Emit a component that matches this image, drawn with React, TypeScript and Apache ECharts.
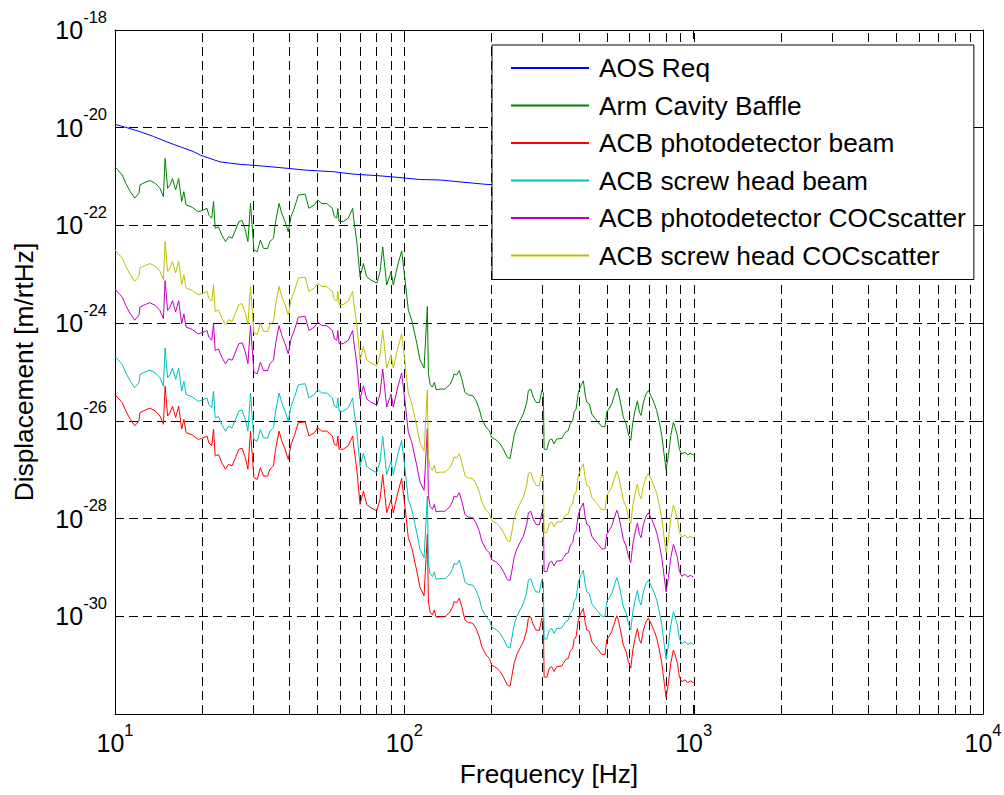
import React, { useEffect, useRef } from "react";
import * as echarts from "echarts";

// Frequencies [Hz] of the ACB / Arm Cavity Baffle noise curves
const noiseFreqs = [
  10.0, 10.6, 10.9, 11.3, 11.7, 12.1, 12.2, 12.7, 13.2, 13.8,
  14.3, 14.7, 14.9, 15.2, 15.5, 15.8, 16.2, 16.6, 17.0, 17.3,
  17.6, 18.5, 19.4, 20.3, 20.8, 21.1, 21.6, 21.9, 22.2, 22.8,
  23.4, 24.1, 24.7, 25.4, 26.1, 26.8, 27.5, 28.2, 28.8, 29.4,
  30.2, 31.0, 31.8, 32.6, 33.7, 34.3, 35.3, 35.9, 36.9, 37.7,
  38.7, 39.7, 40.6, 41.7, 43.0, 45.4, 46.8, 48.9, 50.2, 51.8,
  53.9, 56.4, 57.3, 58.4, 58.9, 59.5, 61.5, 64.0, 66.3, 66.8,
  68.5, 70.3, 72.2, 74.1, 76.7, 80.3, 82.4, 84.2, 86.9, 90.0,
  91.6, 94.9, 97.9, 100.6, 103.2, 106.1, 110.4, 113.3, 117.0, 120.1,
  121.1, 122.7, 125.0, 127.0, 128.7, 132.9, 138.3, 143.9, 147.0, 148.5,
  151.7, 154.9, 157.9, 162.1, 166.4, 172.3, 177.0, 181.6, 185.2, 191.6,
  196.7, 200.5, 208.7, 214.2, 219.9, 227.0, 232.0, 235.1, 239.5, 244.6,
  251.1, 257.8, 264.9, 268.3, 273.5, 279.2, 285.3, 292.9, 298.5, 302.4,
  304.1, 310.7, 317.1, 323.2, 329.2, 336.4, 350.1, 354.5, 362.2, 368.9,
  374.0, 382.1, 386.0, 392.2, 399.4, 407.2, 415.7, 421.3, 427.0, 436.0,
  444.4, 456.2, 468.4, 481.2, 494.0, 500.7, 511.2, 521.1, 532.0, 542.3,
  549.2, 559.8, 571.5, 583.9, 594.8, 606.3, 616.0, 627.3, 639.0, 649.2,
  658.1, 670.3, 684.8, 697.4, 716.5, 731.5, 745.5, 761.1, 775.8, 790.2,
  802.9, 817.8, 833.4, 850.9, 862.5, 878.5, 892.6, 909.8, 934.0, 954.2,
  971.9, 1000,
];

// Values below are log10 of displacement [m/rtHz]
const armCavityBaffle = [
  -20.80, -20.97, -21.14, -21.31, -21.44, -21.34, -21.17, -21.12, -21.08, -21.14,
  -21.24, -21.41, -20.63, -21.24, -21.17, -21.04, -21.27, -21.04, -21.51, -21.31,
  -21.58, -21.63, -21.72, -21.68, -21.65, -21.79, -21.85, -21.51, -22.06, -22.03,
  -22.20, -22.33, -22.23, -22.26, -22.09, -21.92, -21.90, -22.09, -22.33, -21.55,
  -22.50, -22.54, -22.30, -22.47, -22.47, -22.33, -22.26, -21.92, -21.55, -21.75,
  -21.92, -22.13, -21.82, -21.64, -21.38, -21.36, -21.65, -21.58, -21.48, -21.55,
  -21.55, -21.65, -21.82, -21.85, -21.65, -21.92, -21.92, -21.85, -21.65, -21.85,
  -22.33, -23.05, -22.78, -23.05, -23.12, -23.18, -22.95, -22.44, -23.22, -22.95,
  -23.22, -22.81, -22.52, -23.12, -23.73, -23.94, -24.41, -24.75, -24.92, -23.66,
  -25.03, -25.25, -25.31, -25.21, -25.36, -25.35, -25.35, -25.25, -25.14, -25.04,
  -25.06, -24.97, -25.14, -25.42, -25.47, -25.48, -25.59, -25.76, -25.96, -26.13,
  -26.20, -26.34, -26.40, -26.47, -26.58, -26.75, -26.77, -26.58, -26.30, -26.13,
  -25.99, -25.86, -25.62, -25.38, -25.35, -25.52, -25.62, -25.63, -25.38, -25.42,
  -26.58, -26.59, -26.40, -26.37, -26.47, -26.37, -26.36, -26.30, -26.22, -26.20,
  -26.06, -25.99, -25.82, -25.76, -25.42, -25.28, -25.18, -25.45, -25.62, -25.65,
  -25.86, -25.95, -26.03, -26.12, -26.12, -25.82, -25.74, -25.65, -25.48, -25.33,
  -25.42, -25.65, -25.93, -26.06, -26.27, -26.40, -26.03, -25.79, -25.59, -25.82,
  -25.89, -25.62, -25.45, -25.38, -25.52, -25.65, -25.79, -26.03, -26.30, -26.68,
  -27.00, -26.71, -26.30, -26.03, -26.13, -26.30, -26.58, -26.68, -26.64, -26.70,
  -26.66, -26.70,
];

const photodetectorBeam = [
  -25.46, -25.63, -25.80, -25.97, -26.10, -26.00, -25.83, -25.78, -25.74, -25.80,
  -25.90, -26.07, -25.29, -25.90, -25.83, -25.70, -25.93, -25.70, -26.17, -25.97,
  -26.24, -26.29, -26.38, -26.34, -26.31, -26.45, -26.51, -26.17, -26.72, -26.69,
  -26.86, -26.99, -26.89, -26.92, -26.75, -26.58, -26.56, -26.75, -26.99, -26.21,
  -27.16, -27.20, -26.96, -27.13, -27.13, -26.99, -26.92, -26.58, -26.21, -26.41,
  -26.58, -26.79, -26.48, -26.30, -26.04, -26.02, -26.31, -26.24, -26.14, -26.21,
  -26.21, -26.31, -26.48, -26.51, -26.31, -26.58, -26.58, -26.51, -26.31, -26.51,
  -26.99, -27.71, -27.44, -27.71, -27.78, -27.84, -27.61, -27.10, -27.88, -27.61,
  -27.88, -27.47, -27.18, -27.78, -28.39, -28.60, -29.07, -29.41, -29.58, -28.32,
  -29.69, -29.91, -29.97, -29.87, -30.02, -30.01, -30.01, -29.91, -29.80, -29.70,
  -29.72, -29.63, -29.80, -30.08, -30.13, -30.14, -30.25, -30.42, -30.62, -30.79,
  -30.86, -31.00, -31.06, -31.13, -31.24, -31.41, -31.43, -31.24, -30.96, -30.79,
  -30.65, -30.52, -30.28, -30.04, -30.01, -30.18, -30.28, -30.29, -30.04, -30.08,
  -31.24, -31.25, -31.06, -31.03, -31.13, -31.03, -31.02, -30.96, -30.88, -30.86,
  -30.72, -30.65, -30.48, -30.42, -30.08, -29.94, -29.84, -30.11, -30.28, -30.31,
  -30.52, -30.61, -30.69, -30.78, -30.78, -30.48, -30.40, -30.31, -30.14, -29.99,
  -30.08, -30.31, -30.59, -30.72, -30.93, -31.06, -30.69, -30.45, -30.25, -30.48,
  -30.55, -30.28, -30.11, -30.04, -30.18, -30.31, -30.45, -30.69, -30.96, -31.34,
  -31.66, -31.37, -30.96, -30.69, -30.79, -30.96, -31.24, -31.34, -31.30, -31.36,
  -31.32, -31.36,
];

const screwHeadBeam = [
  -24.68, -24.85, -25.02, -25.19, -25.32, -25.22, -25.05, -25.00, -24.96, -25.02,
  -25.12, -25.29, -24.51, -25.12, -25.05, -24.92, -25.15, -24.92, -25.39, -25.19,
  -25.46, -25.51, -25.60, -25.56, -25.53, -25.67, -25.73, -25.39, -25.94, -25.91,
  -26.08, -26.21, -26.11, -26.14, -25.97, -25.80, -25.78, -25.97, -26.21, -25.43,
  -26.38, -26.42, -26.18, -26.35, -26.35, -26.21, -26.14, -25.80, -25.43, -25.63,
  -25.80, -26.01, -25.70, -25.52, -25.26, -25.24, -25.53, -25.46, -25.36, -25.43,
  -25.43, -25.53, -25.70, -25.73, -25.53, -25.80, -25.80, -25.73, -25.53, -25.73,
  -26.21, -26.93, -26.66, -26.93, -27.00, -27.06, -26.83, -26.32, -27.10, -26.83,
  -27.10, -26.69, -26.40, -27.00, -27.61, -27.82, -28.29, -28.63, -28.80, -27.54,
  -28.91, -29.13, -29.19, -29.09, -29.24, -29.23, -29.23, -29.13, -29.02, -28.92,
  -28.94, -28.85, -29.02, -29.30, -29.35, -29.36, -29.47, -29.64, -29.84, -30.01,
  -30.08, -30.22, -30.28, -30.35, -30.46, -30.63, -30.65, -30.46, -30.18, -30.01,
  -29.87, -29.74, -29.50, -29.26, -29.23, -29.40, -29.50, -29.51, -29.26, -29.30,
  -30.46, -30.47, -30.28, -30.25, -30.35, -30.25, -30.24, -30.18, -30.10, -30.08,
  -29.94, -29.87, -29.70, -29.64, -29.30, -29.16, -29.06, -29.33, -29.50, -29.53,
  -29.74, -29.83, -29.91, -30.00, -30.00, -29.70, -29.62, -29.53, -29.36, -29.21,
  -29.30, -29.53, -29.81, -29.94, -30.15, -30.28, -29.91, -29.67, -29.47, -29.70,
  -29.77, -29.50, -29.33, -29.26, -29.40, -29.53, -29.67, -29.91, -30.18, -30.56,
  -30.88, -30.59, -30.18, -29.91, -30.01, -30.18, -30.46, -30.56, -30.52, -30.58,
  -30.54, -30.58,
];

const photodetectorCOCscatter = [
  -23.30, -23.47, -23.64, -23.81, -23.94, -23.84, -23.67, -23.62, -23.58, -23.64,
  -23.74, -23.91, -23.13, -23.74, -23.67, -23.54, -23.77, -23.54, -24.01, -23.81,
  -24.08, -24.13, -24.22, -24.18, -24.15, -24.29, -24.35, -24.01, -24.56, -24.53,
  -24.70, -24.83, -24.73, -24.76, -24.59, -24.42, -24.40, -24.59, -24.83, -24.05,
  -25.00, -25.04, -24.80, -24.97, -24.97, -24.83, -24.76, -24.42, -24.05, -24.25,
  -24.42, -24.63, -24.32, -24.14, -23.88, -23.86, -24.15, -24.08, -23.98, -24.05,
  -24.05, -24.15, -24.32, -24.35, -24.15, -24.42, -24.42, -24.35, -24.15, -24.35,
  -24.83, -25.55, -25.28, -25.55, -25.62, -25.68, -25.45, -24.94, -25.72, -25.45,
  -25.72, -25.31, -25.02, -25.62, -26.23, -26.44, -26.91, -27.25, -27.42, -26.16,
  -27.53, -27.75, -27.81, -27.71, -27.86, -27.85, -27.85, -27.75, -27.64, -27.54,
  -27.56, -27.47, -27.64, -27.92, -27.97, -27.98, -28.09, -28.26, -28.46, -28.63,
  -28.70, -28.84, -28.90, -28.97, -29.08, -29.25, -29.27, -29.08, -28.80, -28.63,
  -28.49, -28.36, -28.12, -27.88, -27.85, -28.02, -28.12, -28.13, -27.88, -27.92,
  -29.08, -29.09, -28.90, -28.87, -28.97, -28.87, -28.86, -28.80, -28.72, -28.70,
  -28.56, -28.49, -28.32, -28.26, -27.92, -27.78, -27.68, -27.95, -28.12, -28.15,
  -28.36, -28.45, -28.53, -28.62, -28.62, -28.32, -28.24, -28.15, -27.98, -27.83,
  -27.92, -28.15, -28.43, -28.56, -28.77, -28.90, -28.53, -28.29, -28.09, -28.32,
  -28.39, -28.12, -27.95, -27.88, -28.02, -28.15, -28.29, -28.53, -28.80, -29.18,
  -29.50, -29.21, -28.80, -28.53, -28.63, -28.80, -29.08, -29.18, -29.14, -29.20,
  -29.16, -29.20,
];

const screwHeadCOCscatter = [
  -22.50, -22.67, -22.84, -23.01, -23.14, -23.04, -22.87, -22.82, -22.78, -22.84,
  -22.94, -23.11, -22.33, -22.94, -22.87, -22.74, -22.97, -22.74, -23.21, -23.01,
  -23.28, -23.33, -23.42, -23.38, -23.35, -23.49, -23.55, -23.21, -23.76, -23.73,
  -23.90, -24.03, -23.93, -23.96, -23.79, -23.62, -23.60, -23.79, -24.03, -23.25,
  -24.20, -24.24, -24.00, -24.17, -24.17, -24.03, -23.96, -23.62, -23.25, -23.45,
  -23.62, -23.83, -23.52, -23.34, -23.08, -23.06, -23.35, -23.28, -23.18, -23.25,
  -23.25, -23.35, -23.52, -23.55, -23.35, -23.62, -23.62, -23.55, -23.35, -23.55,
  -24.03, -24.75, -24.48, -24.75, -24.82, -24.88, -24.65, -24.14, -24.92, -24.65,
  -24.92, -24.51, -24.22, -24.82, -25.43, -25.64, -26.11, -26.45, -26.62, -25.36,
  -26.73, -26.95, -27.01, -26.91, -27.06, -27.05, -27.05, -26.95, -26.84, -26.74,
  -26.76, -26.67, -26.84, -27.12, -27.17, -27.18, -27.29, -27.46, -27.66, -27.83,
  -27.90, -28.04, -28.10, -28.17, -28.28, -28.45, -28.47, -28.28, -28.00, -27.83,
  -27.69, -27.56, -27.32, -27.08, -27.05, -27.22, -27.32, -27.33, -27.08, -27.12,
  -28.28, -28.29, -28.10, -28.07, -28.17, -28.07, -28.06, -28.00, -27.92, -27.90,
  -27.76, -27.69, -27.52, -27.46, -27.12, -26.98, -26.88, -27.15, -27.32, -27.35,
  -27.56, -27.65, -27.73, -27.82, -27.82, -27.52, -27.44, -27.35, -27.18, -27.03,
  -27.12, -27.35, -27.63, -27.76, -27.97, -28.10, -27.73, -27.49, -27.29, -27.52,
  -27.59, -27.32, -27.15, -27.08, -27.22, -27.35, -27.49, -27.73, -28.00, -28.38,
  -28.70, -28.41, -28.00, -27.73, -27.83, -28.00, -28.28, -28.38, -28.34, -28.40,
  -28.36, -28.40,
];

// AOS requirement (visible part, the rest is hidden behind the legend)
const aosReqFreqs = [
  10.0, 11.0, 12.2, 13.6, 15.1, 16.8, 18.7, 19.7, 21.3, 23.1, 27.1,
  31.7, 39.2, 46.0, 56.8, 66.6, 80.3, 96.6, 113, 133, 192, 215,
];
const aosReq = [
  -19.93, -20.00, -20.08, -20.18, -20.29, -20.39, -20.49, -20.56, -20.63, -20.70, -20.75,
  -20.78, -20.83, -20.87, -20.90, -20.95, -20.98, -21.02, -21.06, -21.07, -21.16, -21.17,
];

// Vertical (log) grid lines of the frequency axis
const xGridFreqs = [
  20, 30, 40, 50, 60, 70, 80, 90, 100,
  200, 300, 400, 500, 600, 700, 800, 900, 1000,
  2000, 3000, 4000, 5000, 6000, 7000, 8000, 9000,
];

const FONT = "'Liberation Sans', Arial, Helvetica, sans-serif";

const seriesDefs = [
  { name: "AOS Req", color: "#0000ff", freqs: aosReqFreqs, values: aosReq },
  { name: "Arm Cavity Baffle", color: "#008000", freqs: noiseFreqs, values: armCavityBaffle },
  { name: "ACB photodetector beam", color: "#ff0000", freqs: noiseFreqs, values: photodetectorBeam },
  { name: "ACB screw head beam", color: "#00bfbf", freqs: noiseFreqs, values: screwHeadBeam },
  { name: "ACB photodetector COCscatter", color: "#bf00bf", freqs: noiseFreqs, values: photodetectorCOCscatter },
  { name: "ACB screw head COCscatter", color: "#bfbf00", freqs: noiseFreqs, values: screwHeadCOCscatter },
];

function zip(freqs: number[], values: number[]): number[][] {
  const n = Math.min(freqs.length, values.length);
  const out: number[][] = [];
  for (let i = 0; i < n; i++) out.push([Math.log10(freqs[i]), values[i]]);
  return out;
}

const powLabel = (v: number) => `{a|10}{b|${Math.round(v)}}`;

export default function App() {
  const ref = useRef<HTMLDivElement>(null);

  useEffect(() => {
    if (!ref.current) return;
    const chart = echarts.init(ref.current, null, { renderer: "svg" });

    const rich = {
      a: { fontSize: 25, lineHeight: 44, verticalAlign: "middle", fontFamily: FONT, color: "#000" },
      b: { fontSize: 16.5, lineHeight: 17, verticalAlign: "top", fontFamily: FONT, color: "#000" },
    };
    const axisLine = { show: true, onZero: false, lineStyle: { color: "#000", width: 1 } };
    const axisTick = { show: true, inside: true, length: 9, lineStyle: { color: "#000", width: 1 } };
    const nameTextStyle = { fontFamily: FONT, fontSize: 26.3, color: "#000" };

    const lineSeries = seriesDefs.map((d) => ({
      type: "line",
      name: d.name,
      data: zip(d.freqs, d.values),
      symbol: "none",
      showSymbol: false,
      color: d.color,
      lineStyle: { color: d.color, width: 1 },
      itemStyle: { color: d.color },
      emphasis: { disabled: true },
      z: 3,
    }));

    chart.setOption({
      animation: false,
      backgroundColor: "#ffffff",
      textStyle: { fontFamily: FONT },
      grid: { left: 115, right: 21, top: 30, bottom: 81, containLabel: false, outerBoundsMode: "none" },
      xAxis: [
        {
          type: "value",
          position: "bottom",
          min: 1,
          max: 4,
          interval: 1,
          axisLine,
          axisTick,
          axisLabel: {
            show: true,
            margin: 7,
            formatter: powLabel,
            rich,
            showMinLabel: true,
            showMaxLabel: true,
            hideOverlap: false,
          },
          splitLine: { show: false },
          name: "Frequency [Hz]",
          nameLocation: "middle",
          nameGap: 47,
          nameTextStyle,
        },
        {
          type: "value",
          position: "top",
          min: 1,
          max: 4,
          interval: 1,
          axisLine,
          axisTick,
          axisLabel: { show: false },
          splitLine: { show: false },
        },
      ],
      yAxis: [
        {
          type: "value",
          position: "left",
          min: -32,
          max: -18,
          interval: 2,
          axisLine,
          axisTick,
          axisLabel: {
            show: true,
            margin: 8,
            formatter: (v: number) => (v <= -32 ? "" : powLabel(v)),
            rich,
            showMinLabel: true,
            showMaxLabel: true,
            hideOverlap: false,
          },
          splitLine: { show: true, lineStyle: { color: "#000", width: 1, type: [9, 5] } },
          name: "Displacement [m/rtHz]",
          nameLocation: "middle",
          nameGap: 78,
          nameRotate: 90,
          nameTextStyle,
        },
        {
          type: "value",
          position: "right",
          min: -32,
          max: -18,
          interval: 2,
          axisLine,
          axisTick,
          axisLabel: { show: false },
          splitLine: { show: false },
        },
      ],
      legend: {
        data: seriesDefs.map((d) => d.name),
        orient: "vertical",
        left: 492,
        top: 45,
        padding: [10, 8, 11, 18],
        itemGap: 11.5,
        itemWidth: 78,
        itemHeight: 1,
        backgroundColor: "#ffffff",
        borderColor: "#000",
        borderWidth: 1,
        borderRadius: 0,
        selectedMode: false,
        textStyle: { fontFamily: FONT, fontSize: 26.3, color: "#000", lineHeight: 26, padding: [0, 0, 0, 5] },
      },
      series: [
        {
          type: "custom",
          silent: true,
          z: 1,
          clip: false,
          data: xGridFreqs.map((f) => [Math.log10(f), -25]),
          encode: { x: 0, y: 1 },
          renderItem: (_params: any, api: any) => {
            const x = api.value(0);
            const top = api.coord([x, -18]);
            const bot = api.coord([x, -32]);
            const px = Math.round(top[0]) + 0.5;
            return {
              type: "line",
              shape: { x1: px, y1: bot[1], x2: px, y2: top[1] },
              style: { stroke: "#000", lineWidth: 1, lineDash: [9, 5], fill: null },
            };
          },
        },
        ...lineSeries,
      ],
    });

    return () => chart.dispose();
  }, []);

  return (
    <div
      ref={ref}
      style={{ position: "absolute", left: 0, top: 0, width: 1004, height: 795, background: "#fff" }}
    />
  );
}
